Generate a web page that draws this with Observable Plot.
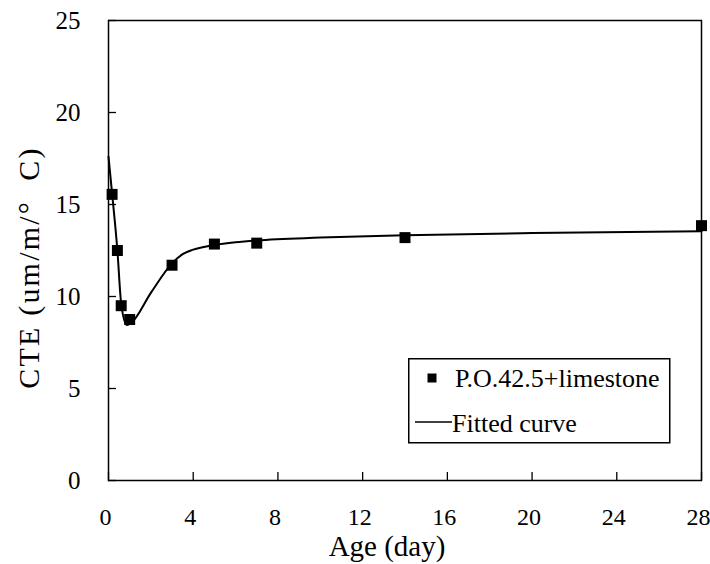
<!DOCTYPE html>
<html><head><meta charset="utf-8">
<script src="https://cdn.jsdelivr.net/npm/d3@7"></script>
<script src="https://cdn.jsdelivr.net/npm/@observablehq/plot@0.6"></script>
<style>
body{margin:0;background:#fff;}
#wrap{position:relative;width:710px;height:564px;}
#legend{position:absolute;left:408px;top:358px;}
svg, svg text{font-family:"Liberation Serif","Times New Roman",serif !important;}
.ytitle text{letter-spacing:2.2px;}
</style></head><body>
<div id="wrap"><div id="chart"></div><div id="legend"></div></div>
<script>
// measured points
const ages = [0.17, 0.42, 0.6, 1, 3, 5, 7, 14, 28];
const cte = [15.55, 12.5, 9.5, 8.75, 11.7, 12.85, 12.9, 13.2, 13.85];
// fitted curve
const fitAge = [0, 0.17, 0.42, 0.6, 0.87, 1.1, 2, 3, 3.5, 4, 5, 6, 7, 10, 14, 20, 28];
const fitCte = [17.6, 15.6, 12.5, 9.6, 8.45, 8.6, 10.2, 11.8, 12.3, 12.55, 12.8, 12.95, 13.05, 13.2, 13.33, 13.45, 13.55];
const xTicks = [0, 4, 8, 12, 16, 20, 24, 28];
const yTicks = [0, 5, 10, 15, 20, 25];
const seriesName = "P.O.42.5+limestone";
const fitName = "Fitted curve";
const xTitle = "Age (day)";
const yTitle = "CTE (um/m/°  C)";

const points = ages.map((a, i) => ({age: a, cte: cte[i]}));
const fit = fitAge.map((a, i) => ({age: a, cte: fitCte[i]}));
const font = "Liberation Serif";

const chart = Plot.plot({
  width: 710, height: 564,
  marginLeft: 108, marginRight: 9, marginTop: 20, marginBottom: 84,
  style: {fontFamily: font, fontSize: "25px", color: "#000", background: "#fff"},
  x: {domain: [0, 28], ticks: xTicks},
  y: {domain: [0, 25], ticks: yTicks},
  marks: [
    Plot.frame({stroke: "#000", strokeWidth: 1.5}),
    Plot.axisX({ticks: xTicks, tickSize: 8, dy: -8, tickFormat: () => "", label: null, strokeWidth: 1.3}),
    Plot.axisX({ticks: xTicks, tickSize: 0, tickPadding: 27, dx: -3, label: null, fontSize: 24}),
    Plot.axisY({ticks: yTicks, tickSize: 8, dx: 8, tickFormat: () => "", label: null, strokeWidth: 1.3}),
    Plot.axisY({ticks: yTicks, tickSize: 0, tickPadding: 28, label: null, fontSize: 25}),
    Plot.line(fit, {x: "age", y: "cte", stroke: "#000", strokeWidth: 2, curve: "monotone-x"}),
    Plot.dot(points, {x: "age", y: "cte", symbol: "square", r: 6.2, fill: "#000", stroke: "none"}),
    Plot.text([xTitle], {text: d => d, frameAnchor: "bottom", textAnchor: "middle", dx: -18, dy: 75, fontSize: 29, fill: "#000"}),
    Plot.text([yTitle], {text: d => d, frameAnchor: "left", textAnchor: "middle", rotate: -90, dx: -79, dy: 17, fontSize: 30, fill: "#000", className: "ytitle"})
  ]
});
document.getElementById("chart").appendChild(chart);

// legend
const lg = d3.select("#legend").append("svg").attr("width", 263).attr("height", 86);
lg.append("rect").attr("x", 0.75).attr("y", 0.75).attr("width", 261).attr("height", 84)
  .attr("fill", "#fff").attr("stroke", "#000").attr("stroke-width", 1.5);
lg.append("rect").attr("x", 19.5).attr("y", 15.5).attr("width", 9).attr("height", 9).attr("fill", "#000");
lg.append("text").attr("x", 47).attr("y", 29).attr("font-size", 26).text(seriesName);
lg.append("line").attr("x1", 7).attr("x2", 44).attr("y1", 64).attr("y2", 64).attr("stroke", "#000").attr("stroke-width", 1.5);
lg.append("text").attr("x", 44).attr("y", 74).attr("font-size", 26).text(fitName);
</script>
</body></html>
